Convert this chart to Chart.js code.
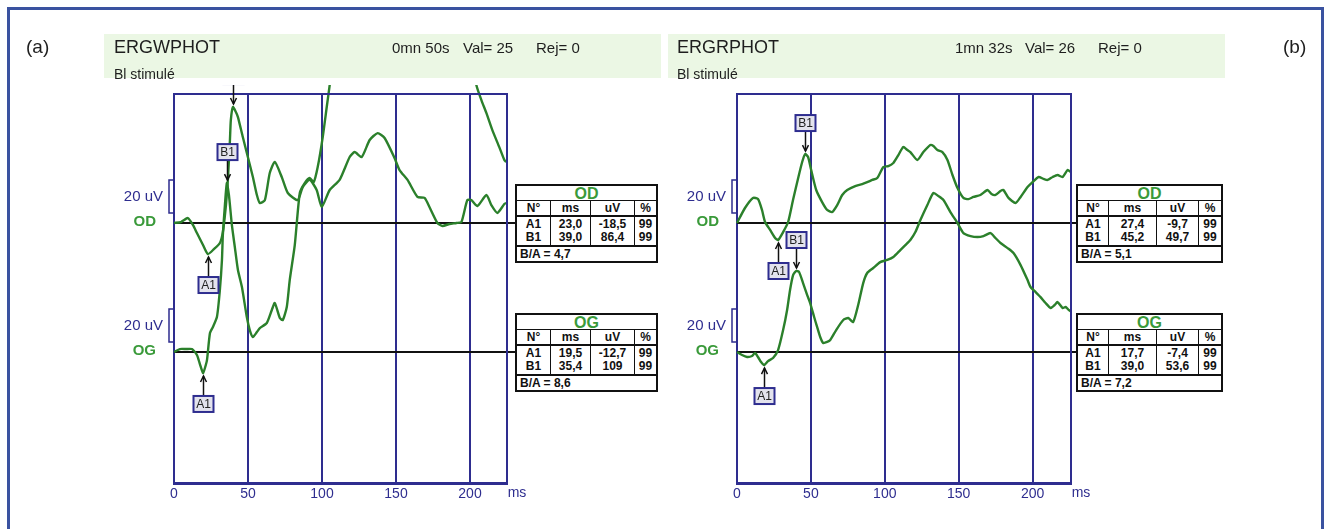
<!DOCTYPE html>
<html>
<head>
<meta charset="utf-8">
<script src="https://cdn.jsdelivr.net/npm/chart.js@4.4.1/dist/chart.umd.min.js"></script>
<style>
  html, body { margin: 0; padding: 0; background: #fff; }
  body { width: 1331px; height: 529px; position: relative; overflow: hidden; font-family: 'Liberation Sans', Arial, sans-serif; }
  .frame { position: absolute; left: 7px; top: 7px; width: 1311px; height: 540px; border: 3px solid #3a52a0; }
  .band { position: absolute; top: 34px; height: 44px; width: 557px; background: #ebf7e4; }
  .txt { position: absolute; white-space: nowrap; color: #1e1e1e; line-height: 1; }
  canvas { position: absolute; top: 0; }
  .tbl { position: absolute; border: 2px solid #111; background: #fff; color: #111; font: bold 12px 'Liberation Sans', Arial, sans-serif; }
  .tt { height: 14px; line-height: 15px; text-align: center; color: #3a9a3a; font-size: 16px; border-bottom: 1.5px solid #111; }
  .r { display: flex; border-bottom: 2px solid #111; }
  .c { box-sizing: border-box; text-align: center; border-left: 1.5px solid #111; }
  .c:first-child { border-left: none; }
  .h .c { height: 14px; line-height: 14px; }
  .d .c { height: 28px; line-height: 13px; padding-top: 1px; }
  .ba { height: 14px; line-height: 14px; padding-left: 3px; }
</style>
</head>
<body>
<div class="frame"></div>
<div class="band" style="left:104px"></div>
<div class="band" style="left:668px"></div>
<canvas id="ergA" width="665" height="529" style="left:0"></canvas>
<canvas id="ergB" width="666" height="529" style="left:665px"></canvas>

<div class="txt" style="left:26px;top:37px;font-size:19px">(a)</div>
<div class="txt" style="left:114px;top:38px;font-size:18px">ERGWPHOT</div>
<div class="txt" style="left:392px;top:40px;font-size:15px">0mn 50s</div>
<div class="txt" style="left:463px;top:40px;font-size:15px">Val= 25</div>
<div class="txt" style="left:536px;top:40px;font-size:15px">Rej= 0</div>
<div class="txt" style="left:114px;top:67px;font-size:14px">Bl stimulé</div>

<div class="txt" style="left:677px;top:38px;font-size:18px">ERGRPHOT</div>
<div class="txt" style="left:955px;top:40px;font-size:15px">1mn 32s</div>
<div class="txt" style="left:1025px;top:40px;font-size:15px">Val= 26</div>
<div class="txt" style="left:1098px;top:40px;font-size:15px">Rej= 0</div>
<div class="txt" style="left:677px;top:67px;font-size:14px">Bl stimulé</div>
<div class="txt" style="left:1283px;top:37px;font-size:19px">(b)</div>

<script>
// --- données (ms / uV) ---
const xTicks = [0, 50, 100, 150, 200];
const peakNames = ['A1', 'B1'];

// (a) ERGWPHOT
const odMsA = [0, 4.7, 9.4, 12.8, 15.5, 19.6, 22.9, 27.0, 31.0, 33.0, 35.1, 36.4, 37.8, 38.4, 39.8, 41.8, 43.2, 46.5, 49.9, 53.3, 56.0, 58.0, 61.4, 64.7, 68.1, 72.8, 76.9, 83.6, 87.0, 91.7, 96.4, 99.8, 105.2, 111.9, 118.7, 122.1, 126.8, 132.2, 137.6, 142.3, 149.0, 152.4, 157.8, 164.5, 169.3, 172.6, 178.0, 181.4, 186.1, 190.8, 194.2, 198.2, 200.9, 205.0, 211.1, 214.4, 218.5, 223.2, 224.5];
const odUvA = [0, 0.6, 3.0, -1.2, -6.1, -13.3, -18.8, -15.8, -12.1, -5.5, 10.9, 26.1, 50.3, 62.4, 70.3, 67.3, 64.2, 52.1, 40.0, 27.9, 17.0, 12.1, 13.9, 30.3, 37.0, 27.9, 18.2, 13.9, 21.8, 26.1, 20.0, 9.7, 20.0, 26.1, 40.0, 43.0, 40.0, 50.3, 54.5, 51.5, 39.4, 32.1, 26.1, 15.8, 15.2, 9.7, 0, -1.8, -0.6, 0, 0.6, 13.9, 13.9, 10.3, 17.0, 10.9, 6.1, 11.5, 12.1];
const ogMsA = [0, 4.0, 8.1, 12.1, 15.5, 17.5, 19.6, 20.9, 22.3, 24.3, 26.3, 29.0, 31.0, 32.4, 33.0, 34.4, 35.7, 37.1, 39.1, 41.1, 43.2, 45.9, 49.2, 51.2, 53.3, 56.0, 58.0, 62.7, 66.1, 68.1, 71.5, 73.5, 76.2, 78.2, 81.6, 85.0, 88.3, 91.7, 94.4, 97.1, 100.5, 103.2, 105.2, 109.2, 125, 180, 198, 202.3, 204.3, 207.7, 211.1, 215.1, 219.8, 223.2, 224.5];
const ogUvA = [0, 1.8, 1.8, 1.8, -1.8, -7.3, -12.7, -9.7, -4.8, 11.5, 15.2, 21.2, 37.6, 55.8, 70.9, 89.1, 102.4, 95.2, 77.0, 63.6, 49.7, 39.4, 21.2, 13.3, 9.1, 12.1, 14.5, 17.6, 25.5, 29.7, 20.6, 19.4, 27.3, 43.6, 64.8, 96.4, 102.4, 105.5, 103.0, 112.1, 130.3, 148.5, 161.8, 189.1, 280, 280, 215, 177.0, 161.8, 152.7, 144.8, 134.5, 124.2, 116.4, 115.2];
const odTabMsA = [23.0, 39.0], odTabUvA = [-18.5, 86.4], odTabPctA = [99, 99];
const ogTabMsA = [19.5, 35.4], ogTabUvA = [-12.7, 109], ogTabPctA = [99, 99];

// (b) ERGRPHOT
const odMsB = [0, 5.4, 10.8, 14.2, 16.9, 19.0, 22.4, 25.8, 27.8, 31.2, 34.6, 37.9, 41.4, 44.1, 46.1, 48.1, 50.2, 53.6, 57.6, 61.0, 64.4, 67.8, 71.2, 74.6, 80.0, 84.7, 88.1, 91.5, 94.9, 99.0, 102.4, 105.8, 109.2, 112.5, 115.3, 117.3, 122.0, 126.1, 130.8, 132.9, 135.6, 139.0, 142.4, 145.8, 149.2, 153.2, 156.6, 160.0, 164.7, 169.5, 172.2, 174.9, 178.3, 180.3, 183.7, 188.5, 191.9, 196.6, 200.0, 204.1, 207.5, 210.2, 213.6, 216.9, 220.3, 223.7, 225.8];
const odUvB = [0, 9.1, 15.2, 14.5, 7.9, 0.6, -4.2, -9.1, -10.3, -5.5, 0.6, 13.9, 27.3, 37.0, 41.8, 40.0, 32.1, 20.0, 12.7, 7.9, 6.7, 10.9, 17.0, 20.0, 22.4, 23.6, 24.8, 26.1, 27.3, 33.9, 34.5, 36.4, 41.2, 46.1, 44.2, 43.0, 38.2, 43.0, 47.3, 46.7, 44.2, 43.0, 38.2, 29.1, 21.2, 15.2, 14.5, 15.8, 17.0, 20.0, 17.6, 17.0, 19.4, 20.0, 15.2, 12.1, 15.8, 21.8, 24.8, 27.9, 26.7, 26.1, 27.9, 29.1, 27.9, 32.1, 30.9];
const ogMsB = [0, 3.4, 6.8, 10.2, 12.2, 14.2, 16.3, 18.3, 21.0, 24.4, 27.8, 31.2, 33.9, 35.9, 38.0, 40.0, 42.0, 44.7, 47.5, 49.5, 52.2, 54.2, 56.3, 58.3, 61.0, 63.1, 67.1, 71.9, 75.3, 78.6, 82.0, 85.4, 88.1, 92.2, 96.9, 101.7, 105.8, 110.5, 113.9, 117.3, 120.7, 124.1, 128.8, 132.9, 136.3, 139.7, 144.4, 149.2, 153.2, 158.0, 162.7, 166.8, 171.5, 174.9, 178.3, 183.1, 187.1, 191.9, 196.6, 198.6, 202.0, 205.4, 208.8, 212.2, 214.9, 216.9, 220.3, 222.4, 224.4, 225.8];
const ogUvB = [0, -1.8, -3.0, -2.4, -0.6, -3.0, -6.1, -7.9, -5.5, -3.6, 1.2, 13.3, 25.5, 37.6, 46.7, 49.1, 48.5, 41.8, 34.5, 29.7, 21.2, 15.2, 9.1, 5.5, 6.1, 7.3, 13.3, 19.4, 20.6, 18.2, 28.5, 41.8, 47.9, 50.9, 54.5, 55.8, 57.6, 61.8, 64.8, 67.9, 72.7, 80.0, 89.1, 96.4, 94.5, 92.1, 84.8, 78.2, 72.1, 70.3, 69.7, 70.3, 72.1, 69.1, 66.1, 63.0, 60.0, 52.7, 43.6, 39.4, 36.4, 33.3, 29.7, 26.7, 28.5, 30.3, 26.7, 27.3, 25.5, 24.8];
const odTabMsB = [27.4, 45.2], odTabUvB = [-9.7, 49.7], odTabPctB = [99, 99];
const ogTabMsB = [17.7, 39.0], ogTabUvB = [-7.4, 53.6], ogTabPctB = [99, 99];

const BLUE = '#2e2d8f';
const GREEN = '#2b802b';
const LABEL_GREEN = '#3a9a3a';

const toPts = (xs, ys) => xs.map((x, i) => ({ x: x, y: ys[i] }));

// extremum of the trace around the latency given in the table
function findPeak(pts, ms, isMax) {
    let best = null;
    pts.forEach(p => {
        if (Math.abs(p.x - ms) <= 4 && (!best || (isMax ? p.y > best.y : p.y < best.y))) best = p;
    });
    return best;
}

const decor = {
    id: 'decor',
    beforeDatasetsDraw(chart) {
        const { ctx, chartArea: a, scales } = chart;
        ctx.save();
        ctx.strokeStyle = '#111';
        ctx.lineWidth = 2;
        ['yOD', 'yOG'].forEach(id => {
            const y = scales[id].getPixelForValue(0);
            ctx.beginPath(); ctx.moveTo(a.left, y); ctx.lineTo(a.right + 8, y); ctx.stroke();
        });
        ctx.restore();
    },
    afterDatasetsDraw(chart) {
        const { ctx, chartArea: a, scales } = chart;
        const xs = scales.x;
        ctx.save();
        // top and right edges of the frame
        ctx.strokeStyle = BLUE; ctx.lineWidth = 2;
        ctx.beginPath(); ctx.moveTo(a.left - 1, a.top); ctx.lineTo(a.right, a.top); ctx.lineTo(a.right, a.bottom + 1); ctx.stroke();

        // 20 uV brackets and channel names
        [['yOD', 'OD'], ['yOG', 'OG']].forEach(([id, name]) => {
            const ys = scales[id];
            const y0 = ys.getPixelForValue(0), yb1 = ys.getPixelForValue(6), yb2 = ys.getPixelForValue(26);
            ctx.strokeStyle = BLUE; ctx.lineWidth = 1.5;
            ctx.beginPath(); ctx.moveTo(a.left, yb2); ctx.lineTo(a.left - 5, yb2); ctx.lineTo(a.left - 5, yb1); ctx.lineTo(a.left, yb1); ctx.stroke();
            ctx.textAlign = 'right'; ctx.textBaseline = 'middle';
            ctx.font = "15px 'Liberation Sans', Arial";
            ctx.fillStyle = BLUE;
            ctx.fillText('20 uV', a.left - 11, (yb1 + yb2) / 2);
            ctx.fillStyle = LABEL_GREEN;
            ctx.font = "bold 15px 'Liberation Sans', Arial";
            ctx.fillText(name, a.left - 18, y0 - 1);
        });

        // unit after the last tick
        ctx.fillStyle = BLUE; ctx.textAlign = 'center'; ctx.textBaseline = 'middle';
        ctx.font = "14px 'Liberation Sans Narrow', 'Liberation Sans', Arial";
        ctx.fillText('ms', a.right + 10, a.bottom + 10);

        // A1 / B1 markers
        ctx.beginPath(); ctx.rect(0, a.top - 9, chart.width, chart.height); ctx.clip();
        chart.data.datasets.forEach(ds => {
            const ys = scales[ds.yAxisID];
            ds.peaks.forEach((ms, i) => {
                const isMax = i === 1;
                const p = findPeak(ds.data, ms, isMax);
                if (!p) return;
                const px = Math.round(xs.getPixelForValue(p.x)) + 0.5;
                const py = ys.getPixelForValue(p.y);
                const dir = isMax ? -1 : 1;
                const tip = py + dir * 3, tail = tip + dir * 20;
                ctx.strokeStyle = '#111'; ctx.lineWidth = 1.5;
                ctx.beginPath(); ctx.moveTo(px, tail); ctx.lineTo(px, tip); ctx.stroke();
                ctx.beginPath(); ctx.moveTo(px - 3, tip + dir * 6); ctx.lineTo(px, tip); ctx.lineTo(px + 3, tip + dir * 6); ctx.stroke();
                const bw = 20, bh = 16;
                const by = isMax ? tail - bh : tail;
                ctx.fillStyle = '#e3e3ed';
                ctx.fillRect(px - bw / 2, by, bw, bh);
                ctx.strokeStyle = BLUE; ctx.lineWidth = 2;
                ctx.strokeRect(px - bw / 2, by, bw, bh);
                ctx.fillStyle = '#222'; ctx.font = "12px 'Liberation Sans', Arial";
                ctx.fillText(peakNames[i], px, by + bh / 2 + 1);
            });
        });
        ctx.restore();
    }
};

function makeErg(canvasId, pad, xMax, od, og, odPeaks, ogPeaks) {
    const line = (label, pts, axis, peaks) => ({
        label: label, data: pts, yAxisID: axis, peaks: peaks,
        borderColor: GREEN, borderWidth: 2.4, pointRadius: 0, tension: 0.2,
        clip: { left: 2, top: 9, right: 2, bottom: 2 }
    });
    return new Chart(document.getElementById(canvasId).getContext('2d'), {
        type: 'line',
        data: { datasets: [line('OD', od, 'yOD', odPeaks), line('OG', og, 'yOG', ogPeaks)] },
        options: {
            responsive: false, animation: false, parsing: false,
            layout: { padding: pad },
            plugins: { legend: { display: false }, tooltip: { enabled: false } },
            scales: {
                x: {
                    type: 'linear', min: 0, max: xMax,
                    afterBuildTicks: s => { s.ticks = xTicks.map(v => ({ value: v })); },
                    afterFit: s => { s.height = 22; },
                    grid: { color: BLUE, lineWidth: 2, drawTicks: false },
                    border: { color: BLUE, width: 3 },
                    ticks: { color: BLUE, padding: 3, maxRotation: 0, font: { family: "'Liberation Sans Narrow', 'Liberation Sans', Arial", size: 14 } }
                },
                yOD: { display: false, min: -157.6, max: 78.2 },
                yOG: { display: false, min: -79.4, max: 156.4 }
            }
        },
        plugins: [decor]
    });
}

makeErg('ergA', { left: 174, right: 158, top: 94, bottom: 24 }, 225,
    toPts(odMsA, odUvA), toPts(ogMsA, ogUvA), odTabMsA, ogTabMsA);
makeErg('ergB', { left: 72, right: 260, top: 94, bottom: 24 }, 226,
    toPts(odMsB, odUvB), toPts(ogMsB, ogUvB), odTabMsB, ogTabMsB);

// --- result tables ---
function fmt(v) {
    return Math.abs(v) >= 100 ? String(Math.round(v)) : v.toFixed(1).replace('.', ',');
}
function buildTable(left, top, widths, name, ms, uv, pct) {
    const t = document.createElement('div');
    t.className = 'tbl';
    t.style.left = left + 'px';
    t.style.top = top + 'px';
    const ratio = Math.abs(uv[1] / uv[0]).toFixed(1).replace('.', ',');
    const cols = [['N°', peakNames], ['ms', ms.map(fmt)], ['uV', uv.map(fmt)], ['%', pct.map(String)]];
    let hdr = '', body = '';
    cols.forEach((c, i) => {
        hdr += `<div class="c" style="width:${widths[i]}px">${c[0]}</div>`;
        body += `<div class="c" style="width:${widths[i]}px">${c[1].join('<br>')}</div>`;
    });
    t.innerHTML = `<div class="tt">${name}</div><div class="r h">${hdr}</div><div class="r d">${body}</div><div class="ba">B/A = ${ratio}</div>`;
    document.body.appendChild(t);
}
buildTable(515, 184, [33, 40, 44, 22], 'OD', odTabMsA, odTabUvA, odTabPctA);
buildTable(515, 313, [33, 40, 44, 22], 'OG', ogTabMsA, ogTabUvA, ogTabPctA);
buildTable(1076, 184, [30, 48, 42, 23], 'OD', odTabMsB, odTabUvB, odTabPctB);
buildTable(1076, 313, [30, 48, 42, 23], 'OG', ogTabMsB, ogTabUvB, ogTabPctB);
</script>
</body>
</html>
